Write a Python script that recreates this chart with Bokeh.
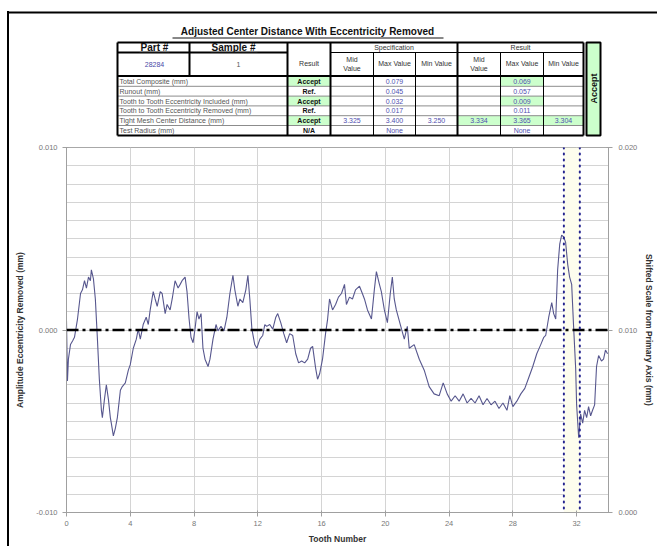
import math
from bokeh.plotting import figure
from bokeh.layouts import column
from bokeh.models import (Range1d, LinearAxis, FixedTicker, PrintfTickFormatter,
                          BoxAnnotation, Span)
from bokeh.core.properties import value
from bokeh.embed import file_html
from bokeh.resources import INLINE

FONT = "Liberation Sans"

# ---------------- table data ----------------
title_text = "Adjusted Center Distance With Eccentricity Removed"
part_no = "28284"
sample_no = "1"
overall_result = "Accept"
row_labels = ["Total Composite (mm)", "Runout (mm)",
              "Tooth to Tooth Eccentricity Included (mm)",
              "Tooth to Tooth Eccentricity Removed (mm)",
              "Tight Mesh Center Distance (mm)", "Test Radius (mm)"]
row_results = ["Accept", "Ref.", "Accept", "Ref.", "Accept", "N/A"]
spec_mid = ["", "", "", "", "3.325", ""]
spec_max = ["0.079", "0.045", "0.032", "0.017", "3.400", "None"]
spec_min = ["", "", "", "", "3.250", ""]
res_mid = ["", "", "", "", "3.334", ""]
res_max = ["0.069", "0.057", "0.009", "0.011", "3.365", "None"]
res_min = ["", "", "", "", "3.304", ""]

# ---------------- chart data ----------------
tooth = [0.00, 0.06, 0.12, 0.25, 0.38, 0.50, 0.69, 0.88, 1.00, 1.13,
         1.25, 1.38, 1.50, 1.56, 1.69, 1.81, 1.94, 2.06, 2.19, 2.25,
         2.38, 2.50, 2.63, 2.75, 2.81, 2.94, 3.06, 3.19, 3.38, 3.50,
         3.69, 3.88, 4.00, 4.19, 4.38, 4.50, 4.63, 4.81, 5.00, 5.13,
         5.25, 5.44, 5.56, 5.69, 5.88, 6.00, 6.19, 6.31, 6.50, 6.63,
         6.81, 7.00, 7.13, 7.25, 7.44, 7.56, 7.69, 7.81, 7.94, 8.06,
         8.19, 8.31, 8.44, 8.56, 8.69, 8.88, 9.00, 9.19, 9.38, 9.50,
         9.69, 9.88, 10.06, 10.25, 10.44, 10.56, 10.75, 10.88, 11.06, 11.25,
         11.38, 11.50, 11.63, 11.81, 11.94, 12.13, 12.31, 12.44, 12.56, 12.75,
         12.94, 13.13, 13.25, 13.44, 13.63, 13.81, 14.00, 14.19, 14.38, 14.56,
         14.75, 14.94, 15.13, 15.31, 15.44, 15.63, 15.75, 15.88, 16.06, 16.25,
         16.38, 16.50, 16.69, 16.88, 17.06, 17.25, 17.44, 17.56, 17.75, 17.94,
         18.13, 18.38, 18.56, 18.69, 18.88, 19.13, 19.31, 19.44, 19.63, 19.75,
         19.94, 20.13, 20.31, 20.44, 20.56, 20.69, 20.94, 21.19, 21.38, 21.50,
         21.81, 22.13, 22.44, 22.75, 23.06, 23.38, 23.63, 23.88, 24.13, 24.38,
         24.63, 24.88, 25.13, 25.38, 25.63, 25.88, 26.13, 26.38, 26.63, 26.88,
         27.13, 27.38, 27.63, 27.81, 28.00, 28.25, 28.50, 28.75, 29.00, 29.25,
         29.50, 29.75, 29.94, 30.06, 30.25, 30.44, 30.56, 30.69, 30.81, 30.94,
         31.06, 31.19, 31.31, 31.44, 31.56, 31.69, 31.81, 31.94, 32.00, 32.13,
         32.25, 32.38, 32.50, 32.63, 32.75, 32.88, 33.00, 33.13, 33.25, 33.38,
         33.56, 33.69, 33.81, 33.94]
# amplitude in micrometres (0.001 mm)
amplitude_um = [0.5, -2.8, -1.6, -0.8, -0.6, -0.4, 0.6, 2.0, 2.2, 2.7,
                2.3, 2.9, 2.7, 3.3, 2.8, 1.7, -0.5, -2.7, -4.4, -4.8,
                -3.8, -3.0, -3.8, -4.8, -5.1, -5.8, -5.4, -4.8, -3.3, -3.1,
                -2.9, -2.2, -1.9, -1.0, -0.5, 0.05, -0.5, 0.3, 0.7, 0.3,
                1.1, 2.1, 1.7, 1.3, 2.1, 2.0, 0.9, 1.4, 1.1, 1.7,
                2.7, 2.3, 2.5, 2.7, 2.9, 2.1, 0.6, -0.4, -0.7, 0.05,
                1.0, 0.6, 0.9, -1.0, -1.6, -2.0, -1.6, -0.5, 0.3, -0.05,
                0.2, -0.05, 0.7, 2.0, 3.0, 2.2, 1.3, 1.7, 1.5, 2.2,
                3.0, 1.7, 0.05, -0.8, -1.0, -0.5, -0.3, 0.3, 0.2, 0.3,
                0.05, 0.7, 0.9, 0.4, -0.2, -0.7, -0.2, -0.3, -1.3, -1.8,
                -1.7, -1.8, -1.6, -1.0, -0.9, -2.1, -2.7, -2.4, -1.6, -0.2,
                0.6, 1.7, 1.1, 1.4, 1.8, 2.0, 2.5, 1.4, 1.8, 1.7,
                2.2, 2.4, 2.0, 1.7, 1.1, 0.6, 2.2, 3.2, 2.5, 2.1,
                1.1, 0.4, 2.0, 2.9, 1.7, 1.1, 0.3, -0.5, 0.2, -1.0,
                -0.8, -1.6, -2.2, -3.1, -3.5, -3.6, -2.9, -3.5, -3.9, -3.6,
                -3.9, -3.5, -4.0, -3.75, -4.0, -3.6, -4.1, -3.75, -4.1, -3.9,
                -4.3, -4.0, -4.4, -3.6, -4.2, -3.9, -3.5, -3.2, -2.6, -2.0,
                -1.3, -0.8, -0.4, -0.3, 0.7, 1.5, 0.9, 0.6, 3.3, 4.7,
                5.2, 5.1, 4.8, 3.6, 2.9, 2.5, 0.2, -2.1, -4.1, -5.9,
                -4.6, -5.1, -4.4, -4.8, -4.2, -4.7, -4.4, -4.1, -2.0, -1.4,
                -1.7, -1.6, -1.1, -1.3]
amplitude_mm = [a / 1000.0 for a in amplitude_um]
zero_level = 0.0
marker_teeth = [31.2, 32.2]
x_ticks = [0, 4, 8, 12, 16, 20, 24, 28, 32]
left_ticks = [-0.010, 0.000, 0.010]
right_ticks = [0.000, 0.010, 0.020]

# =============== TABLE FIGURE ===============
TW, TH = 657, 140
tf = figure(width=TW, height=TH, x_range=Range1d(0, TW), y_range=Range1d(0, TH),
            output_backend="svg", toolbar_location=None,
            min_border=0, min_border_left=0, min_border_right=0,
            min_border_top=0, min_border_bottom=0)
tf.frame_align = False
tf.axis.visible = False
tf.grid.visible = False
tf.outline_line_color = None
tf.background_fill_color = None
tf.border_fill_color = None


def Y(v):
    return TH - v


def seg(x0, y0, x1, y1, color="black", width=1.0):
    tf.segment(x0=[x0], y0=[Y(y0)], x1=[x1], y1=[Y(y1)], line_color=color, line_width=width)


def txt(x, y, s, size="7px", color="#444444", bold=False, align="center", angle=0.0):
    tf.text(x=[x], y=[Y(y)], text=[s], text_font=value(FONT), text_font_size=size,
            text_color=color, text_font_style="bold" if bold else "normal",
            text_align=align, text_baseline="middle", angle=angle)


GREEN = "#ccffcc"
cx = [117, 287, 330, 373, 415, 457, 500, 543, 583]
ry = [76 + i * 9.8 for i in range(7)]

# page frame (top edge)
seg(7, 12, 657, 12, "black", 2)

# title
txt(307, 31, title_text, size="10px", color="#111111", bold=True)
seg(172, 37.5, 443, 37.5, "#111111", 1)

# white table body
tf.quad(left=[117], right=[583], top=[Y(42)], bottom=[Y(135)], fill_color="white", line_color=None)

# green fills
for i, r in enumerate(row_results):
    top, bot = ry[i], ry[i + 1]
    if r == "Accept":
        tf.quad(left=[cx[1]], right=[cx[2]], top=[Y(top)], bottom=[Y(bot)],
                fill_color=GREEN, line_color=None)
        for j, vals in zip([5, 6, 7], [res_mid, res_max, res_min]):
            if vals[i]:
                tf.quad(left=[cx[j]], right=[cx[j + 1]], top=[Y(top)], bottom=[Y(bot)],
                        fill_color=GREEN, line_color=None)
# overall accept column
tf.quad(left=[586], right=[600], top=[Y(42)], bottom=[Y(135)],
        fill_color=GREEN, line_color="black", line_width=2)

# thin gray row lines
for yy in ry[1:-1]:
    seg(117, yy, 583, yy, "#8c8c8c", 1)
# thin black column lines
for xx in [373, 415, 500, 543]:
    seg(xx, 52, xx, 135, "black", 1)
seg(330, 52, 583, 52, "black", 1)
# thick lines
for (a, b, c, d) in [(117, 42, 583, 42), (117, 135, 583, 135), (117, 42, 117, 135),
                     (583, 42, 583, 135), (117, 75.5, 583, 75.5), (287, 42, 287, 135),
                     (330, 42, 330, 135), (457, 42, 457, 135), (117, 52, 287, 52),
                     (189, 42, 189, 75.5)]:
    seg(a, b, c, d, "black", 2)

# header texts
txt(154, 47, "Part #", size="10px", color="#111111", bold=True)
seg(139, 52, 169, 52, "#111111", 1)
txt(233, 47, "Sample #", size="10px", color="#111111", bold=True)
seg(210, 52, 257, 52, "#111111", 1)
txt(154, 64, part_no, size="7px", color="#4a4aa8")
txt(238, 64, sample_no, size="7px", color="#555555")
txt(308.5, 63, "Result", size="7px", color="#333333")
txt(393.5, 47, "Specification", size="7px", color="#333333")
txt(520, 47, "Result", size="7px", color="#333333")
for c0, c1 in [(330, 373), (457, 500)]:
    txt((c0 + c1) / 2, 59, "Mid", size="7px", color="#333333")
    txt((c0 + c1) / 2, 68, "Value", size="7px", color="#333333")
for c0, c1 in [(373, 415), (500, 543)]:
    txt((c0 + c1) / 2, 63, "Max Value", size="7px", color="#333333")
for c0, c1 in [(415, 457), (543, 583)]:
    txt((c0 + c1) / 2, 63, "Min Value", size="7px", color="#333333")
txt(593, 88, overall_result, size="9px", color="#111111", bold=True, angle=math.pi / 2)

# data rows
for i in range(6):
    ym = (ry[i] + ry[i + 1]) / 2
    txt(119, ym, row_labels[i], size="7px", color="#555555", align="left")
    txt(308.5, ym, row_results[i], size="7px", color="#111111", bold=True)
    for j, vals in zip(range(2, 8), [spec_mid, spec_max, spec_min, res_mid, res_max, res_min]):
        if vals[i]:
            txt((cx[j] + cx[j + 1]) / 2, ym, vals[i], size="7px", color="#5050b0")

# =============== CHART FIGURE ===============
cf = figure(width=657, height=406, x_range=Range1d(0, 34), y_range=Range1d(-0.010, 0.010),
            output_backend="svg", toolbar_location=None,
            min_border_left=66, min_border_right=46, min_border_top=7, min_border_bottom=31)
cf.frame_align = False
cf.background_fill_color = "white"
cf.border_fill_color = None
cf.outline_line_color = "#a8a8a8"
cf.extra_y_ranges = {"right": Range1d(0.000, 0.020)}

cf.xgrid.ticker = FixedTicker(ticks=x_ticks)
cf.xgrid.grid_line_color = "#d4d4d4"
cf.ygrid.ticker = FixedTicker(ticks=[round(-0.010 + k * 0.001, 3) for k in range(21)])
cf.ygrid.grid_line_color = "#d4d4d4"

xa = cf.xaxis[0]
xa.ticker = FixedTicker(ticks=x_ticks)
xa.axis_label = "Tooth Number"
ya = cf.yaxis[0]
ya.ticker = FixedTicker(ticks=left_ticks)
ya.formatter = PrintfTickFormatter(format="%.3f")
ya.axis_label = "Amplitude Eccentricity Removed (mm)"
ra = LinearAxis(y_range_name="right", ticker=FixedTicker(ticks=right_ticks),
                formatter=PrintfTickFormatter(format="%.3f"),
                axis_label="Shifted Scale from Primary Axis (mm)")
cf.add_layout(ra, "right")

for ax in [xa, ya, ra]:
    ax.axis_line_color = "#a0a0a0"
    ax.major_tick_line_color = "#a0a0a0"
    ax.minor_tick_line_color = None
    ax.major_tick_in = 2
    ax.major_tick_out = 4
    ax.major_label_text_font = FONT
    ax.major_label_text_font_size = "7.5px"
    ax.major_label_text_color = "#777777"
    ax.axis_label_text_font = FONT
    ax.axis_label_text_font_size = "8.5px"
    ax.axis_label_text_font_style = "bold"
    ax.axis_label_text_color = "#333333"
xa.major_label_standoff = 4
xa.axis_label_standoff = 5
ya.major_label_standoff = 5
ya.axis_label_standoff = 8
ra.major_label_standoff = 6
ra.axis_label_standoff = 4

cf.add_layout(BoxAnnotation(left=marker_teeth[0], right=marker_teeth[1],
                            fill_color="#fdfdee", fill_alpha=1.0, line_color=None,
                            level="underlay"))
cf.line(tooth, amplitude_mm, line_color="#57578e", line_width=1.1)
cf.add_layout(Span(location=zero_level, dimension="width", line_color="black",
                   line_width=2.5, line_dash="12 4 3 4"))
for t in marker_teeth:
    cf.add_layout(Span(location=t, dimension="height", line_color="#23238f",
                       line_width=2, line_dash="1 5", line_cap="round"))

page_bg = ("linear-gradient(white, white) 0 0 / 100% 11px no-repeat, "
           "linear-gradient(to right, black, black) 7px 0 / 2px 100% no-repeat, white")
layout = column(tf, cf, spacing=0, styles={"background": page_bg})
open("out.html", "w").write(file_html(layout, INLINE))
